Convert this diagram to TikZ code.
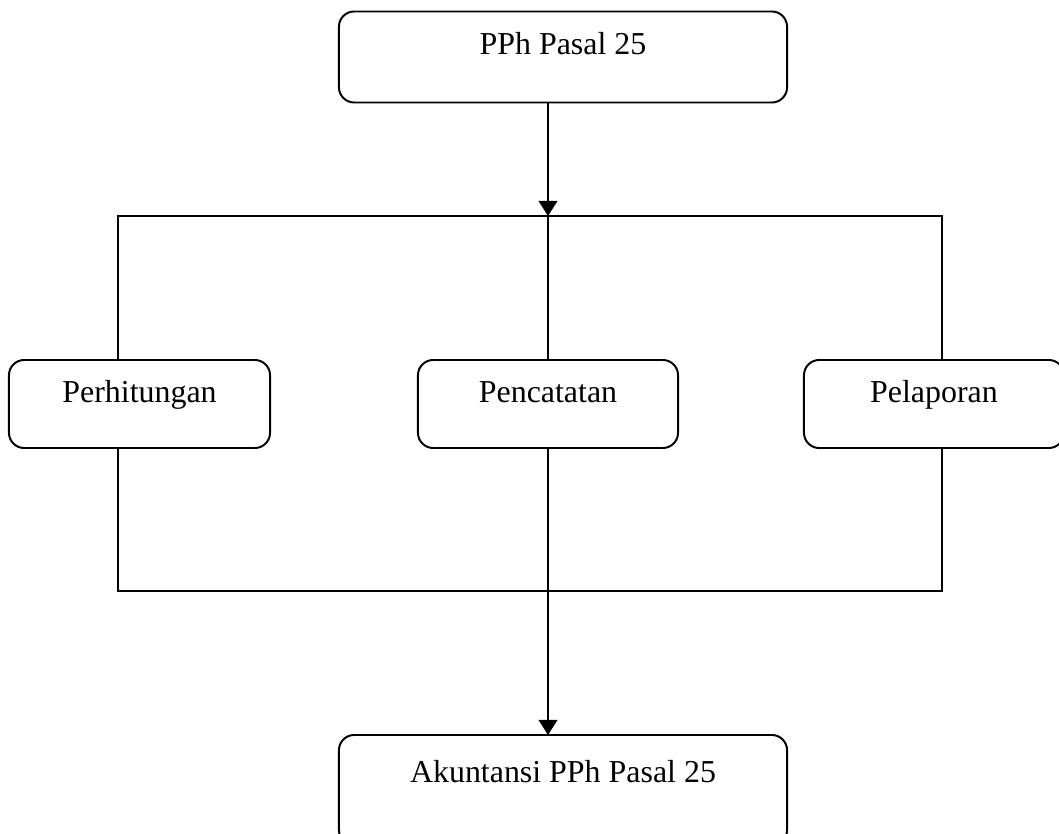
\documentclass[tikz,border=0pt]{standalone}
\usepackage{fontspec}
\setmainfont{Liberation Serif}
\usepackage{tikz}
\usetikzlibrary{arrows.meta}
\tikzset{
    flow box/.style={
        draw, rounded corners=0.38cm, inner sep=0pt, outer sep=0pt,
        line width=1.4pt, font=\fontsize{22.7}{27}\selectfont,
        text height=0.55cm, text depth=0.65cm
    },
    flow line/.style={line width=1.4pt},
    flow arrow/.style={flow line, -{Triangle[width=0.47cm,length=0.38cm]}},
}

\begin{document}
\begin{tikzpicture}[x=0.025cm, y=-0.025cm]
\useasboundingbox (0,0) rectangle (1059,834);

\node[flow box, minimum width=11.2cm, minimum height=2.275cm] (pph) at (563,57) {PPh Pasal 25};
\node[flow box, minimum width=6.525cm, minimum height=2.2cm] (hitung) at (139.5,404) {Perhitungan};
\node[flow box, minimum width=6.5cm, minimum height=2.2cm] (catat) at (548,404) {Pencatatan};
\node[flow box, minimum width=6.5cm, minimum height=2.2cm] (lapor) at (934,404) {Pelaporan};
\node[flow box, minimum width=11.2cm, minimum height=2.75cm, text depth=0.95cm] (akun) at (563,790) {Akuntansi PPh Pasal 25};

\coordinate (split) at (548,216);
\coordinate (lsplit) at (118,216);
\coordinate (rsplit) at (942,216);
\coordinate (ljoin) at (118,591);
\coordinate (rjoin) at (942,591);

\draw[flow arrow] (pph.south -| split) -- (split);
\draw[flow line] (hitung.north -| lsplit) -- (lsplit) -- (rsplit) -- (lapor.north -| rsplit);
\draw[flow line] (split) -- (catat.north);
\draw[flow line] (hitung.south -| ljoin) -- (ljoin) -- (rjoin) -- (lapor.south -| rjoin);
\draw[flow arrow] (catat.south) -- (catat.south |- akun.north);
\end{tikzpicture}
\end{document}
